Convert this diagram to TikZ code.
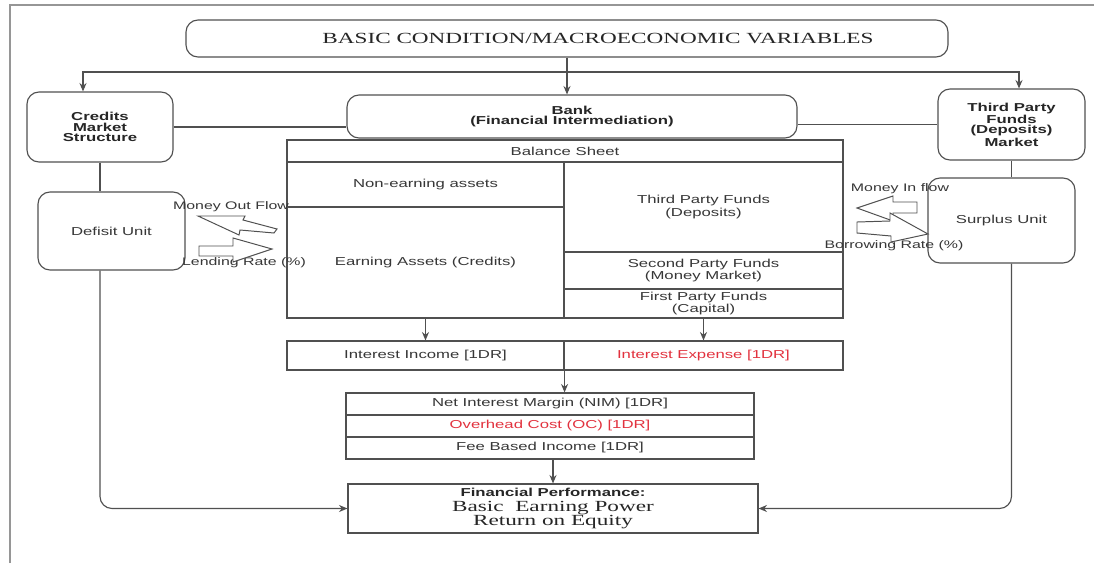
\documentclass[tikz,border=0pt]{standalone}
\usepackage{fontspec}
\usetikzlibrary{arrows.meta}
\newfontfamily\sansf{Liberation Sans}[FakeStretch=1.45]
\newfontfamily\serf{Liberation Serif}[FakeStretch=1.5]
\definecolor{edge}{RGB}{80,80,80}
\definecolor{ink}{RGB}{55,55,55}
\definecolor{redink}{RGB}{226,50,62}
\definecolor{framegray}{RGB}{150,150,150}
\tikzset{
	box/.style={draw=edge,line width=0.8pt,inner sep=0pt,align=center,text=ink,font=\sansf\fontsize{8.2}{7.6}\selectfont},
	rbox/.style={box,rounded corners=0.3cm},
	bold/.style={font=\sansf\bfseries\fontsize{8.2}{7.6}\selectfont,text=black!85},
	lbl/.style={inner sep=0pt,text=ink,font=\sansf\fontsize{7.8}{8}\selectfont},
	arr/.style={draw=edge,line width=0.8pt,-{Stealth[length=6pt,width=5pt]}},
	link/.style={draw=edge,line width=0.8pt},
	blk/.style={draw=edge,line width=0.7pt,fill=white,line join=miter},
}

\begin{document}
\begin{tikzpicture}
	\useasboundingbox[fill=white] (0,0) rectangle (27.35,-14.075);
	\draw[framegray,line width=1.2pt] (0.25,-14.075) -- (0.25,-0.125) -- (27.35,-0.125);
	\draw (14.175,-0.9625) node(top) [rbox,minimum width=19.05cm,minimum height=0.925cm,font=\serf\fontsize{11}{12}\selectfont,text=black!85] {\hspace*{1.55cm}BASIC CONDITION/MACROECONOMIC VARIABLES};
	\draw (14.3,-2.9125) node(bank) [rbox,bold,minimum width=11.25cm,minimum height=1.075cm] {Bank\\(Financial Intermediation)};
	\draw (2.5,-3.175) node(cms) [rbox,bold,minimum width=3.65cm,minimum height=1.75cm] {Credits\\Market\\Structure};
	\draw (25.2875,-3.1125) node(tpm) [rbox,bold,minimum width=3.675cm,minimum height=1.775cm] {Third Party\\Funds\\(Deposits)\\Market};
	\draw (2.7875,-5.775) node(du) [rbox,minimum width=3.675cm,minimum height=1.95cm] {Defisit Unit};
	\draw (25.0375,-5.5125) node(su) [rbox,minimum width=3.675cm,minimum height=2.125cm] {Surplus Unit};
	% balance sheet
	\draw (14.125,-3.775) node(bs) [box,minimum width=13.9cm,minimum height=0.55cm] {Balance Sheet};
	\draw (10.6375,-4.6125) node(nea) [box,minimum width=6.925cm,minimum height=1.125cm] {Non-earning assets};
	\draw (10.6375,-6.5625) node(ea) [box,minimum width=6.925cm,minimum height=2.775cm] {Earning Assets (Credits)};
	\draw (17.5875,-5.175) node(tpf) [box,minimum width=6.975cm,minimum height=2.25cm] {Third Party Funds\\(Deposits)};
	\draw (17.5875,-6.7625) node(spf) [box,minimum width=6.975cm,minimum height=0.925cm] {Second Party Funds\\(Money Market)};
	\draw (17.5875,-7.5875) node(fpf) [box,minimum width=6.975cm,minimum height=0.725cm] {First Party Funds\\(Capital)};
	\draw (10.6375,-8.8875) node(ii) [box,minimum width=6.925cm,minimum height=0.725cm] {Interest Income [1DR]};
	\draw (17.5875,-8.8875) node(ie) [box,minimum width=6.975cm,minimum height=0.725cm,text=redink] {Interest Expense [1DR]};
	\draw (13.75,-10.1) node(nim) [box,minimum width=10.2cm,minimum height=0.55cm] {Net Interest Margin (NIM) [1DR]};
	\draw (13.75,-10.65) node(oc) [box,minimum width=10.2cm,minimum height=0.55cm,text=redink] {Overhead Cost (OC) [1DR]};
	\draw (13.75,-11.2) node(fbi) [box,minimum width=10.2cm,minimum height=0.55cm] {Fee Based Income [1DR]};
	\draw (13.825,-12.7125) node(fp) [box,minimum width=10.25cm,minimum height=1.225cm,font=\sansf\fontsize{8.2}{10}\selectfont,text=black!85] {{\bfseries Financial Performance:}\\{\serf\fontsize{11}{10}\selectfont Basic\ \ Earning Power}\\{\serf\fontsize{11}{10}\selectfont Return on Equity}};
	% flow labels
	\draw (5.775,-5.175) node(mof) [lbl] {Money Out Flow};
	\draw (6.1,-6.575) node(lr) [lbl] {Lending Rate (\%)};
	\draw (22.5,-4.725) node(mif) [lbl] {Money In flow};
	\draw (22.35,-6.15) node(br) [lbl] {Borrowing Rate (\%)};
	\coordinate (jl) at (2.075,-1.8);
	\coordinate (jr) at (25.475,-1.8);
	\path[arr] (top.south) -- (top.south |- bank.north);
	\path[arr] (top.south |- jl) -- (jl) -- (jl |- cms.north);
	\path[arr] (top.south |- jr) -- (jr) -- (jr |- tpm.north);
	\path[link] (cms.east) -- (cms.east -| bank.west);
	\path[link] (bank.east |- tpm.west) -- (tpm.west);
	\path[link] (cms.south) -- (cms.south |- du.north);
	\path[link] (tpm.south) -- (tpm.south |- su.north);
	\path[arr,rounded corners=0.3cm] (cms.south |- du.south) |- (fp.west);
	\path[arr,rounded corners=0.3cm] (tpm.south |- su.south) |- (fp.east);
	\path[arr] (ea.south) -- (ii.north);
	\path[arr] (fpf.south) -- (ie.north);
	\path[arr] (ii.south east) -- (ii.south east |- nim.north);
	\path[arr] (fp.north |- fbi.south) -- (fp.north);
	% block arrows
	\draw[blk] (4.95,-5.4) -- (6.125,-5.4) -- (6.075,-5.5) -- (6.925,-5.725) -- (6.85,-5.825) -- (6.0,-5.75) -- (5.975,-5.875) -- cycle;
	\draw[blk] (4.975,-6.15) -- (5.825,-6.15) -- (5.825,-5.95) -- (6.8,-6.225) -- (5.825,-6.55) -- (5.825,-6.4) -- (4.975,-6.4) -- cycle;
	\draw[blk] (21.425,-5.2) -- (22.325,-4.9) -- (22.325,-5.05) -- (22.925,-5.05) -- (22.925,-5.325) -- (22.325,-5.325) -- (22.325,-5.525) -- cycle;
	\draw[blk] (21.425,-5.55) -- (22.25,-5.525) -- (22.25,-5.325) -- (23.2,-5.85) -- (22.275,-6.05) -- (22.275,-5.9) -- (21.425,-5.825) -- cycle;
\end{tikzpicture}
\end{document}
